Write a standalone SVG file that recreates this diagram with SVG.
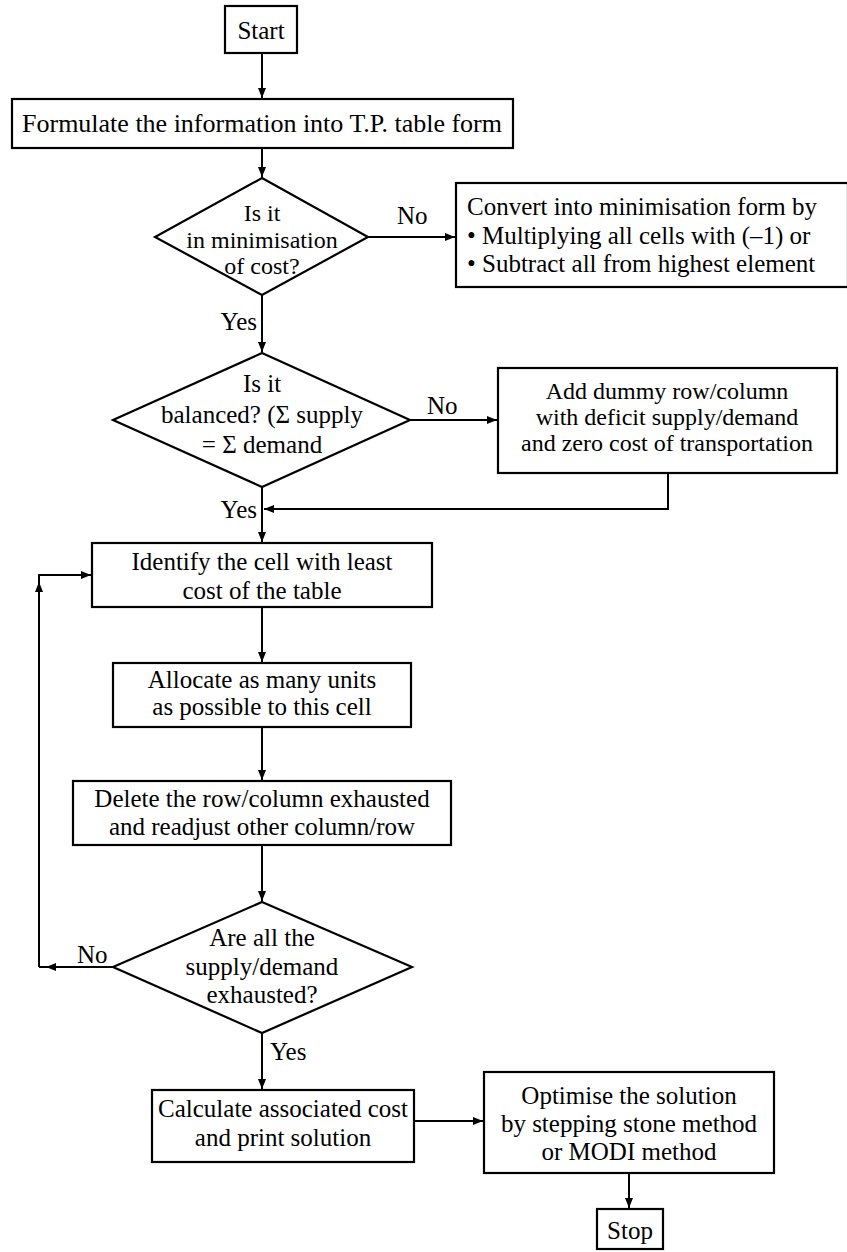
<svg xmlns="http://www.w3.org/2000/svg" width="847" height="1252" viewBox="0 0 847 1252">
<defs>
<marker id="ah" viewBox="0 0 10 8" refX="10" refY="4" markerWidth="10" markerHeight="8" markerUnits="userSpaceOnUse" orient="auto">
<path d="M0,0 L10,4 L0,8 Z" fill="#000"/>
</marker>
<style>
.box{fill:#fff;stroke:#000;stroke-width:2.2}
.t{font-family:"Liberation Serif","Times New Roman",serif;font-size:25px;fill:#000;text-anchor:middle}
.l{font-family:"Liberation Serif","Times New Roman",serif;font-size:25px;fill:#000}
.s{font-size:24px}
.c{fill:none;stroke:#000;stroke-width:2}
</style>
</defs>
<rect width="847" height="1252" fill="#fff"/>
<g id="connectors">
<line class="c" x1="262" y1="53" x2="262" y2="98" marker-end="url(#ah)"/>
<line class="c" x1="262" y1="148" x2="262" y2="177" marker-end="url(#ah)"/>
<line class="c" x1="368" y1="237" x2="455" y2="237" marker-end="url(#ah)"/>
<text class="l" x="397" y="224">No</text>
<line class="c" x1="262" y1="295" x2="262" y2="352" marker-end="url(#ah)"/>
<text class="l" x="257" y="330" text-anchor="end">Yes</text>
<line class="c" x1="410" y1="420" x2="497" y2="420" marker-end="url(#ah)"/>
<text class="l" x="427" y="414">No</text>
<line class="c" x1="262" y1="487" x2="262" y2="542" marker-end="url(#ah)"/>
<text class="l" x="257" y="518" text-anchor="end">Yes</text>
<polyline class="c" points="668,473 668,509 264,509" marker-end="url(#ah)"/>
<line class="c" x1="262" y1="607" x2="262" y2="662" marker-end="url(#ah)"/>
<line class="c" x1="262" y1="727" x2="262" y2="780" marker-end="url(#ah)"/>
<line class="c" x1="262" y1="845" x2="262" y2="901" marker-end="url(#ah)"/>
<line class="c" x1="113" y1="967" x2="46" y2="967" marker-end="url(#ah)"/>
<line class="c" x1="46" y1="967" x2="39" y2="967"/>
<line class="c" x1="39" y1="967" x2="39" y2="582" marker-end="url(#ah)"/>
<polyline class="c" points="39,582 39,575 91,575" marker-end="url(#ah)"/>
<text class="l" x="77" y="963">No</text>
<line class="c" x1="262" y1="1033" x2="262" y2="1089" marker-end="url(#ah)"/>
<text class="l" x="270" y="1060">Yes</text>
<line class="c" x1="414" y1="1121" x2="483" y2="1121" marker-end="url(#ah)"/>
<line class="c" x1="629" y1="1173" x2="629" y2="1208" marker-end="url(#ah)"/>
</g>
<g id="start">
<rect class="box" x="225" y="6" width="72" height="47"/>
<text class="t" x="261" y="39">Start</text>
</g>
<g id="formulate">
<rect class="box" x="12" y="99" width="501" height="49"/>
<text class="t" x="262" y="132" style="font-size:26px">Formulate the information into T.P. table form</text>
</g>
<g id="decision-minimisation">
<polygon class="box" points="262,178 368,237 262,295 155,237"/>
<text class="t s" x="262" y="221">Is it</text>
<text class="t s" x="262" y="248">in minimisation</text>
<text class="t s" x="262" y="274">of cost?</text>
</g>
<g id="convert">
<rect class="box" x="456" y="183" width="392" height="104"/>
<text class="l" x="467" y="215">Convert into minimisation form by</text>
<text class="l" x="467" y="244">• Multiplying all cells with (–1) or</text>
<text class="l" x="467" y="272">• Subtract all from highest element</text>
</g>
<g id="decision-balanced">
<polygon class="box" points="262,353 410,420 262,487 113,420"/>
<text class="t" x="262" y="392">Is it</text>
<text class="t" x="262" y="423">balanced? (Σ supply</text>
<text class="t" x="262" y="453">= Σ demand</text>
</g>
<g id="add-dummy">
<rect class="box" x="498" y="368" width="339" height="105"/>
<text class="t s" x="667" y="399">Add dummy row/column</text>
<text class="t s" x="667" y="425">with deficit supply/demand</text>
<text class="t s" x="667" y="451">and zero cost of transportation</text>
</g>
<g id="identify">
<rect class="box" x="92" y="543" width="340" height="64"/>
<text class="t" x="262" y="570">Identify the cell with least</text>
<text class="t" x="262" y="599">cost of the table</text>
</g>
<g id="allocate">
<rect class="box" x="113" y="663" width="298" height="64"/>
<text class="t" x="262" y="688">Allocate as many units</text>
<text class="t" x="262" y="715">as possible to this cell</text>
</g>
<g id="delete">
<rect class="box" x="73" y="781" width="378" height="64"/>
<text class="t" x="262" y="807">Delete the row/column exhausted</text>
<text class="t" x="262" y="835">and readjust other column/row</text>
</g>
<g id="decision-exhausted">
<polygon class="box" points="262,902 412,967 262,1033 113,967"/>
<text class="t" x="262" y="946">Are all the</text>
<text class="t" x="262" y="975">supply/demand</text>
<text class="t" x="262" y="1003">exhausted?</text>
</g>
<g id="calculate">
<rect class="box" x="152" y="1090" width="262" height="72"/>
<text class="t" x="283" y="1117">Calculate associated cost</text>
<text class="t" x="283" y="1146">and print solution</text>
</g>
<g id="optimise">
<rect class="box" x="484" y="1072" width="290" height="101"/>
<text class="t" x="629" y="1104">Optimise the solution</text>
<text class="t" x="629" y="1132">by stepping stone method</text>
<text class="t" x="629" y="1160">or MODI method</text>
</g>
<g id="stop">
<rect class="box" x="597" y="1209" width="66" height="40"/>
<text class="t" x="630" y="1239">Stop</text>
</g>
</svg>
